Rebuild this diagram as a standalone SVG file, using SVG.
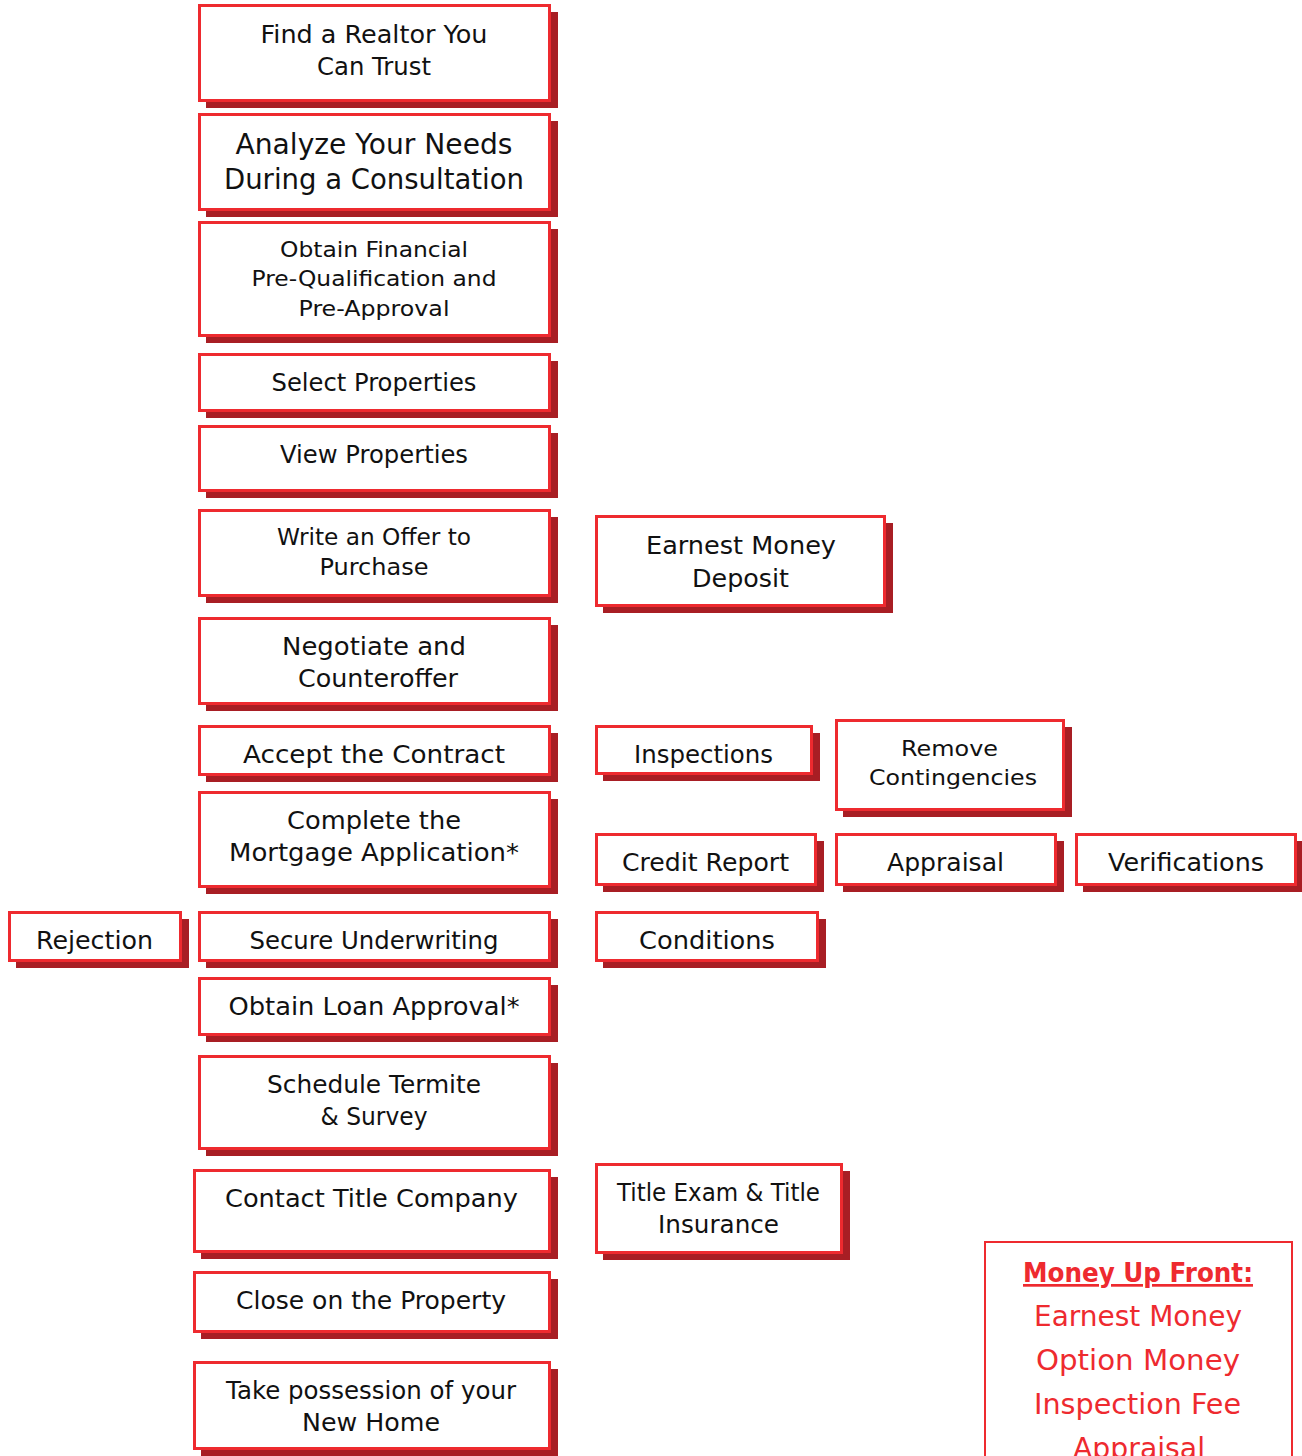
<svg xmlns="http://www.w3.org/2000/svg" width="1302" height="1456" viewBox="0 0 1302 1456">
<style>
.sh{fill:#a81e24}
.bx{fill:#fff;stroke:#ee2a2f;stroke-width:3}
.t{font-family:"DejaVu Sans","Liberation Sans",sans-serif;fill:#111;text-anchor:middle}
.m{font-family:"DejaVu Sans","Liberation Sans",sans-serif;fill:#ee2a2f;text-anchor:middle}
</style>
<rect width="1302" height="1456" fill="#fff"/>
<g id="connectors"></g>

<g id="n1"><rect class="sh" x="206" y="12" width="352" height="96"/><rect class="bx" x="199.5" y="5.5" width="350" height="95"/>
<text class="t" font-size="24" x="374" y="42.5" textLength="227" lengthAdjust="spacingAndGlyphs">Find a Realtor You</text>
<text class="t" font-size="24" x="374" y="74.5" textLength="114" lengthAdjust="spacingAndGlyphs">Can Trust</text></g>

<g id="n2"><rect class="sh" x="206" y="121" width="352" height="96"/><rect class="bx" x="199.5" y="114.5" width="350" height="95"/>
<text class="t" font-size="28" x="374" y="154" textLength="277" lengthAdjust="spacingAndGlyphs">Analyze Your Needs</text>
<text class="t" font-size="28" x="374" y="189" textLength="300" lengthAdjust="spacingAndGlyphs">During a Consultation</text></g>

<g id="n3"><rect class="sh" x="206" y="229" width="352" height="114"/><rect class="bx" x="199.5" y="222.5" width="350" height="113"/>
<text class="t" font-size="22" x="374" y="257" textLength="188" lengthAdjust="spacingAndGlyphs">Obtain Financial</text>
<text class="t" font-size="22" x="374" y="286" textLength="245" lengthAdjust="spacingAndGlyphs">Pre-Qualification and</text>
<text class="t" font-size="22" x="374" y="316" textLength="151" lengthAdjust="spacingAndGlyphs">Pre-Approval</text></g>

<g id="n4"><rect class="sh" x="206" y="361" width="352" height="57"/><rect class="bx" x="199.5" y="354.5" width="350" height="56"/>
<text class="t" font-size="24" x="374" y="390.5" textLength="205" lengthAdjust="spacingAndGlyphs">Select Properties</text></g>

<g id="n5"><rect class="sh" x="206" y="433" width="352" height="65"/><rect class="bx" x="199.5" y="426.5" width="350" height="64"/>
<text class="t" font-size="24" x="374" y="462.5" textLength="188" lengthAdjust="spacingAndGlyphs">View Properties</text></g>

<g id="n6"><rect class="sh" x="206" y="517" width="352" height="86"/><rect class="bx" x="199.5" y="510.5" width="350" height="85"/>
<text class="t" font-size="23" x="374" y="545" textLength="194" lengthAdjust="spacingAndGlyphs">Write an Offer to</text>
<text class="t" font-size="23" x="374" y="575" textLength="109" lengthAdjust="spacingAndGlyphs">Purchase</text></g>

<g id="n7"><rect class="sh" x="206" y="625" width="352" height="86"/><rect class="bx" x="199.5" y="618.5" width="350" height="85"/>
<text class="t" font-size="24" x="374" y="654.5" textLength="184" lengthAdjust="spacingAndGlyphs">Negotiate and</text>
<text class="t" font-size="24" x="378" y="686.5" textLength="160" lengthAdjust="spacingAndGlyphs">Counteroffer</text></g>

<g id="n8"><rect class="sh" x="206" y="733" width="352" height="49"/><rect class="bx" x="199.5" y="726.5" width="350" height="48"/>
<text class="t" font-size="24" x="374" y="762.5" textLength="262" lengthAdjust="spacingAndGlyphs">Accept the Contract</text></g>

<g id="n9"><rect class="sh" x="206" y="799" width="352" height="95"/><rect class="bx" x="199.5" y="792.5" width="350" height="94"/>
<text class="t" font-size="24" x="374" y="828.5" textLength="174" lengthAdjust="spacingAndGlyphs">Complete the</text>
<text class="t" font-size="24" x="374" y="860.5" textLength="290" lengthAdjust="spacingAndGlyphs">Mortgage Application*</text></g>

<g id="n10"><rect class="sh" x="206" y="919" width="352" height="49"/><rect class="bx" x="199.5" y="912.5" width="350" height="48"/>
<text class="t" font-size="24" x="374" y="948.5" textLength="249" lengthAdjust="spacingAndGlyphs">Secure Underwriting</text></g>

<g id="n11"><rect class="sh" x="206" y="985" width="352" height="57"/><rect class="bx" x="199.5" y="978.5" width="350" height="56"/>
<text class="t" font-size="24" x="374" y="1014.5" textLength="291" lengthAdjust="spacingAndGlyphs">Obtain Loan Approval*</text></g>

<g id="n12"><rect class="sh" x="206" y="1063" width="352" height="93"/><rect class="bx" x="199.5" y="1056.5" width="350" height="92"/>
<text class="t" font-size="24" x="374" y="1092.5" textLength="214" lengthAdjust="spacingAndGlyphs">Schedule Termite</text>
<text class="t" font-size="24" x="374" y="1124.5" textLength="107" lengthAdjust="spacingAndGlyphs">&amp; Survey</text></g>

<g id="n13"><rect class="sh" x="201" y="1177" width="357" height="82"/><rect class="bx" x="194.5" y="1170.5" width="355" height="81"/>
<text class="t" font-size="24" x="371.5" y="1206.5" textLength="293" lengthAdjust="spacingAndGlyphs">Contact Title Company</text></g>

<g id="n14"><rect class="sh" x="201" y="1279" width="357" height="60"/><rect class="bx" x="194.5" y="1272.5" width="355" height="59"/>
<text class="t" font-size="24" x="371" y="1308.5" textLength="270" lengthAdjust="spacingAndGlyphs">Close on the Property</text></g>

<g id="n15"><rect class="sh" x="201" y="1369" width="357" height="87"/><rect class="bx" x="194.5" y="1362.5" width="355" height="86"/>
<text class="t" font-size="24" x="371" y="1398.5" textLength="290" lengthAdjust="spacingAndGlyphs">Take possession of your</text>
<text class="t" font-size="24" x="371" y="1430.5" textLength="138" lengthAdjust="spacingAndGlyphs">New Home</text></g>

<g id="n16"><rect class="sh" x="16" y="919" width="173" height="49"/><rect class="bx" x="9.5" y="912.5" width="171" height="48"/>
<text class="t" font-size="24" x="94.5" y="948.5" textLength="117" lengthAdjust="spacingAndGlyphs">Rejection</text></g>

<g id="n17"><rect class="sh" x="603" y="523" width="290" height="90"/><rect class="bx" x="596.5" y="516.5" width="288" height="89"/>
<text class="t" font-size="25" x="741" y="553.5" textLength="190" lengthAdjust="spacingAndGlyphs">Earnest Money</text>
<text class="t" font-size="25" x="740.5" y="586.5" textLength="97" lengthAdjust="spacingAndGlyphs">Deposit</text></g>

<g id="n18"><rect class="sh" x="603" y="733" width="217" height="48"/><rect class="bx" x="596.5" y="726.5" width="215" height="47"/>
<text class="t" font-size="24" x="703.5" y="762.5" textLength="139" lengthAdjust="spacingAndGlyphs">Inspections</text></g>

<g id="n19"><rect class="sh" x="843" y="727" width="229" height="90"/><rect class="bx" x="836.5" y="720.5" width="227" height="89"/>
<text class="t" font-size="21" x="949.5" y="755.5" textLength="97" lengthAdjust="spacingAndGlyphs">Remove</text>
<text class="t" font-size="21" x="953" y="784.5" textLength="168" lengthAdjust="spacingAndGlyphs">Contingencies</text></g>

<g id="n20"><rect class="sh" x="603" y="841" width="221" height="51"/><rect class="bx" x="596.5" y="834.5" width="219" height="50"/>
<text class="t" font-size="24" x="705.5" y="870.5" textLength="167" lengthAdjust="spacingAndGlyphs">Credit Report</text></g>

<g id="n21"><rect class="sh" x="843" y="841" width="221" height="51"/><rect class="bx" x="836.5" y="834.5" width="219" height="50"/>
<text class="t" font-size="24" x="945.5" y="870.5" textLength="117" lengthAdjust="spacingAndGlyphs">Appraisal</text></g>

<g id="n22"><rect class="sh" x="1083" y="841" width="219" height="51"/><rect class="bx" x="1076.5" y="834.5" width="219" height="50"/>
<text class="t" font-size="24" x="1186" y="870.5" textLength="156" lengthAdjust="spacingAndGlyphs">Verifications</text></g>

<g id="n23"><rect class="sh" x="603" y="919" width="223" height="49"/><rect class="bx" x="596.5" y="912.5" width="221" height="48"/>
<text class="t" font-size="24" x="707" y="948.5" textLength="136" lengthAdjust="spacingAndGlyphs">Conditions</text></g>

<g id="n24"><rect class="sh" x="603" y="1171" width="247" height="89"/><rect class="bx" x="596.5" y="1164.5" width="245" height="88"/>
<text class="t" font-size="24" x="718.5" y="1200.5" textLength="203" lengthAdjust="spacingAndGlyphs">Title Exam &amp; Title</text>
<text class="t" font-size="24" x="718.5" y="1232.5" textLength="121" lengthAdjust="spacingAndGlyphs">Insurance</text></g>

<g id="money">
<rect x="985" y="1242" width="307" height="230" fill="#fff" stroke="#ee2a2f" stroke-width="2"/>
<text class="m" font-size="27" font-weight="bold" x="1138" y="1282" textLength="230" lengthAdjust="spacingAndGlyphs" text-decoration="underline">Money Up Front:</text>
<text class="m" font-size="28" x="1138" y="1326" textLength="208" lengthAdjust="spacingAndGlyphs">Earnest Money</text>
<text class="m" font-size="28" x="1138" y="1370" textLength="204" lengthAdjust="spacingAndGlyphs">Option Money</text>
<text class="m" font-size="28" x="1137.5" y="1414" textLength="207" lengthAdjust="spacingAndGlyphs">Inspection Fee</text>
<text class="m" font-size="28" x="1139" y="1458" textLength="132" lengthAdjust="spacingAndGlyphs">Appraisal</text>
</g>
</svg>
